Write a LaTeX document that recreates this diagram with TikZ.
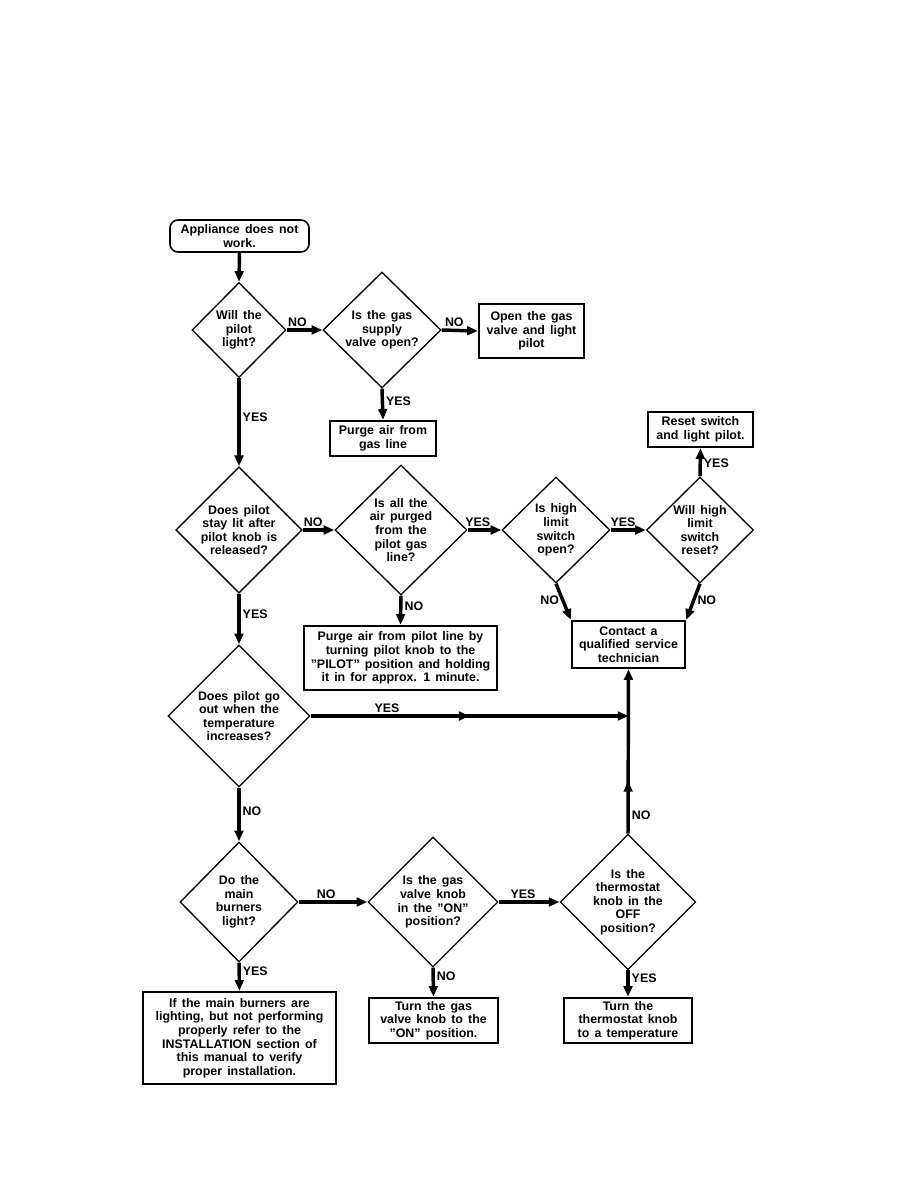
\documentclass[tikz,border=0pt]{standalone}
\usepackage{fontspec}
\setmainfont{Liberation Sans}[WordSpace=1.5]
\usetikzlibrary{arrows.meta,shapes.geometric,decorations.markings}
\newcommand{\px}{0.75pt}
\newcommand{\chartfont}{\fontsize{9.3}{10.2}\selectfont\bfseries}

\begin{document}
\begin{tikzpicture}[x=0.75pt, y=-0.75pt,
  decision/.style={diamond, draw, line width=1pt, inner sep=0pt, align=center, font=\chartfont},
  action/.style={rectangle, draw, line width=1.8pt, inner sep=0pt, align=center, font=\chartfont},
  flow/.style={line width=2.6pt, -{Triangle[length=8pt,width=6.5pt]}},
  midtip/.style={postaction={decorate}, decoration={markings,
    mark=at position #1 with {\arrow{Triangle[length=8pt,width=6.5pt]}}}},
  ans/.style={font=\chartfont, inner sep=1.5pt}]
\fill[white] (0,0) rectangle (918,1188);
\useasboundingbox (0,0) rectangle (918,1188);
% ----- pilot light checks -----
\node[action, rounded corners=6pt, line width=1.2pt, minimum width=139*\px, minimum height=32*\px]
  (start) at (239.5,236) {Appliance does not\\work.};
\node[decision, minimum width=94*\px, minimum height=95*\px] (willpilot) at (239,330)
  {Will the\\pilot\\light?};
\node[decision, minimum width=118*\px, minimum height=116*\px] (gassupply) at (382,330)
  {Is the gas\\supply\\valve open?};
\node[action, minimum width=105*\px, minimum height=54*\px] (opengas) at (531.5,331)
  {Open the gas\\valve and light\\pilot};
\node[action, minimum width=106*\px, minimum height=35*\px] (purgegas) at (383,438.5)
  {Purge air from\\gas line};
% ----- pilot stays lit -----
\node[decision, minimum width=118*\px, minimum height=118*\px] (staylit) at (239,530)
  {Does pilot\\stay lit after\\pilot knob is\\released?};
\node[decision, minimum width=132*\px, minimum height=130*\px] (airpurged) at (401,530)
  {Is all the\\air purged\\from the\\pilot gas\\line?};
\node[action, minimum width=193*\px, minimum height=64*\px] (purgepilot) at (400.5,658)
  {Purge air from pilot line by\\turning pilot knob to the\\"PILOT" position and holding\\it in for approx. 1 minute.};
\node[decision, minimum width=108*\px, minimum height=106*\px] (highopen) at (556,530)
  {Is high\\limit\\switch\\open?};
\node[decision, minimum width=107*\px, minimum height=106*\px] (highreset) at (700,530)
  {Will high\\limit\\switch\\reset?};
\node[action, minimum width=105*\px, minimum height=35*\px] (resetsw) at (700.5,429.5)
  {Reset switch\\and light pilot.};
\node[action, minimum width=113*\px, minimum height=47*\px] (contact) at (628.5,644.5)
  {Contact a\\qualified service\\technician};
% ----- temperature and burners -----
\node[decision, minimum width=142*\px, minimum height=142*\px] (goout) at (239,716)
  {Does pilot go\\out when the\\temperature\\increases?};
\node[decision, minimum width=118*\px, minimum height=120*\px] (burners) at (239,902)
  {Do the\\main\\burners\\light?};
\node[decision, minimum width=130*\px, minimum height=130*\px] (gasknob) at (433,902)
  {Is the gas\\valve knob\\in the "ON"\\position?};
\node[decision, minimum width=130*\px, minimum height=130*\px] (thermo) at (628,902)
  {Is the\\thermostat\\knob in the\\OFF\\position?};
\node[action, minimum width=193*\px, minimum height=92*\px] (installbox) at (239.5,1038)
  {If the main burners are\\lighting, but not performing\\properly refer to the\\INSTALLATION section of\\this manual to verify\\proper installation.};
\node[action, minimum width=129*\px, minimum height=45*\px] (turngas) at (433.5,1020.5)
  {Turn the gas\\valve knob to the\\"ON" position.};
\node[action, minimum width=128*\px, minimum height=45*\px] (turnthermo) at (628,1020.5)
  {Turn the\\thermostat knob\\to a temperature};
\coordinate (join) at (contact.south |- goout.east);
% ----- connectors -----
\draw[flow] (start.south) -- (willpilot.north);
\draw[flow] (willpilot.east) -- node[ans, above, pos=0.3] {NO} (gassupply.west);
\draw[flow] (gassupply.east) -- node[ans, above, pos=0.35] {NO} (opengas.west);
\draw[flow] (gassupply.south) -- node[ans, right, pos=0.4] {YES} (purgegas.north);
\draw[flow] (willpilot.south) -- node[ans, right, pos=0.44] {YES} (staylit.north);
\draw[flow] (staylit.east) -- node[ans, above, pos=0.33] {NO} (airpurged.west);
\draw[flow] (airpurged.south) -- node[ans, right, pos=0.35] {NO} (purgepilot.north);
\draw[flow] (airpurged.east) -- node[ans, above, pos=0.3] {YES} (highopen.west);
\draw[flow] (highopen.east) -- node[ans, above, pos=0.35] {YES} (highreset.west);
\draw[flow] (highreset.north) -- node[ans, right, pos=0.45] {YES} (resetsw.south);
\draw[flow] (highopen.south) -- node[ans, left, pos=0.45] {NO} (contact.north west);
\draw[flow] (highreset.south) -- node[ans, right, pos=0.45] {NO} (contact.north east);
\draw[flow] (staylit.south) -- node[ans, right, pos=0.4] {YES} (goout.north);
\draw[flow, midtip=0.5] (goout.east) -- node[ans, above, pos=0.24] {YES} (join);
\draw[flow] (goout.south) -- node[ans, right, pos=0.43] {NO} (burners.north);
\draw[flow] (burners.east) -- node[ans, above, pos=0.4] {NO} (gasknob.west);
\draw[flow] (gasknob.east) -- node[ans, above, pos=0.4] {YES} (thermo.west);
\draw[flow] (gasknob.south) -- node[ans, right, pos=0.3] {NO} (turngas.north);
\draw[flow] (thermo.south) -- node[ans, right, pos=0.3] {YES} (turnthermo.north);
\draw[flow] (burners.south) -- node[ans, right, pos=0.3] {YES} (installbox.north);
\draw[flow, midtip=0.32] (thermo.north) -- node[ans, right, pos=0.11] {NO} (contact.south);
\end{tikzpicture}
\end{document}
